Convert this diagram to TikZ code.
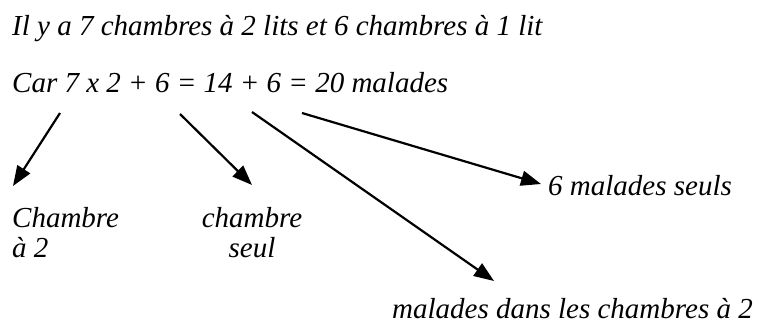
\documentclass[tikz,border=0pt]{standalone}
\usepackage{fontspec}
\setmainfont{Liberation Serif}
\usetikzlibrary{arrows.meta}

\begin{document}
\begin{tikzpicture}[x=1pt, y=-1pt,
  font=\itshape\fontsize{29}{30}\selectfont,
  txt/.style={inner sep=0pt, anchor=base west},
  fleche/.style={line width=2.2pt, -{Triangle[length=20pt, width=15pt]}}]
\useasboundingbox (0,0) rectangle (758,325);

\node[txt] (phrase) at (12,35) {Il y a 7 chambres à 2 lits et 6 chambres à 1 lit};
\node[txt] (calcul) at (12,92) {Car 7 x 2 + 6 = 14 + 6 = 20 malades};

\node[txt, align=left] (deux) at (12,257) {Chambre\\à 2};
\node[txt, anchor=base, align=center] (seul) at (252,257) {chambre\\seul};
\node[txt] (seuls) at (548,195) {6 malades seuls};
\node[txt, anchor=base east] (dans) at (753,318) {malades dans les chambres à 2};

% departs sous le calcul
\coordinate (d1) at (60,113);
\coordinate (d2) at (180,114);
\coordinate (d3) at (252,112);
\coordinate (d4) at (302,113);
% pointes
\coordinate (f1) at (13,186);
\coordinate (f2) at (252,185);
\coordinate (f3) at (494,281);
\coordinate (f4) at (541,184);

\draw[fleche] (d1) -- (f1);
\draw[fleche] (d2) -- (f2);
\draw[fleche] (d3) -- (f3);
\draw[fleche] (d4) -- (f4);
\end{tikzpicture}
\end{document}
